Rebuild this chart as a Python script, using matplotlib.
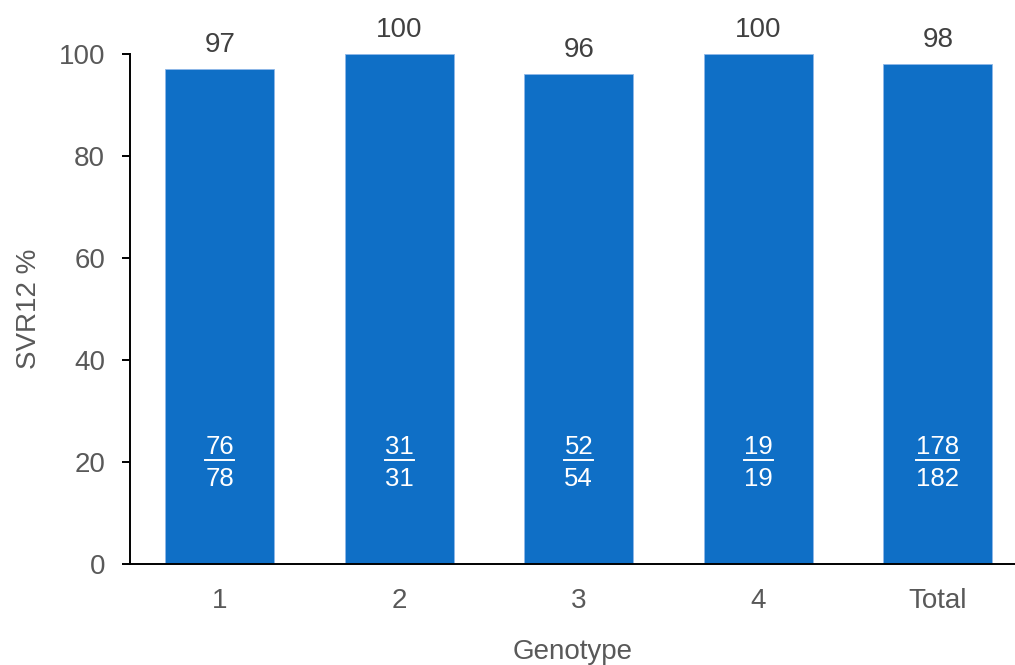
import matplotlib
matplotlib.use("Agg")
import matplotlib.pyplot as plt
from matplotlib.lines import Line2D

plt.rcParams['font.family'] = ['Liberation Sans', 'DejaVu Sans']

# SVR12 by genotype
genotypes = ["1", "2", "3", "4", "Total"]
svr12 = [97, 100, 96, 100, 98]
responders = [76, 31, 52, 19, 178]
patients = [78, 31, 54, 19, 182]

bar_color = "#0f6fc6"
grey = "#595959"

fig = plt.figure(figsize=(10.15, 6.65), dpi=100)
ax = fig.add_axes([130 / 1015, 1 - 564 / 665, 885 / 1015, 510 / 665])

x = list(range(len(genotypes)))
bars = ax.bar(x, svr12, width=0.607, color=bar_color, edgecolor="#8fb8e8", linewidth=0.6)

ax.set_xlim(-0.5, 4.43)
ax.set_ylim(0, 100)
ax.set_yticks([0, 20, 40, 60, 80, 100])
ax.set_xticks(x)
ax.set_xticklabels(genotypes)

for s in ["top", "right"]:
    ax.spines[s].set_visible(False)
for s in ["left", "bottom"]:
    ax.spines[s].set_linewidth(1.4)
    ax.spines[s].set_color("black")

ax.tick_params(axis="y", direction="out", length=6, width=1.4, color="black",
               labelsize=20, labelcolor=grey, pad=12)
ax.tick_params(axis="x", length=0, labelsize=20, labelcolor=grey, pad=17)

ax.set_ylabel("SVR12 %", fontsize=20, color=grey, labelpad=12)
ax.set_xlabel("Genotype", fontsize=20, color=grey, labelpad=18)

# percentages above bars
for xi, v in zip(x, svr12):
    ax.annotate(str(v), (xi, v), xytext=(0, 12.5), textcoords="offset points",
                ha="center", va="baseline", fontsize=20, color="#404040")

# n/N fractions inside bars
nums = []
for xi, n, N in zip(x, responders, patients):
    t = ax.text(xi, 22.9, str(n), ha="center", va="center", fontsize=18.5, color="white")
    nums.append(t)
    ax.text(xi, 16.7, str(N), ha="center", va="center", fontsize=18.5, color="white")

fig.canvas.draw()
renderer = fig.canvas.get_renderer()
inv = ax.transData.inverted()
for t in nums:
    bb = t.get_window_extent(renderer)
    (x0, _), (x1, _) = inv.transform([(bb.x0, 0), (bb.x1, 0)])
    ax.add_line(Line2D([x0, x1], [20.4, 20.4], color="white", linewidth=1.4))

fig.savefig("out.png", dpi=100)
